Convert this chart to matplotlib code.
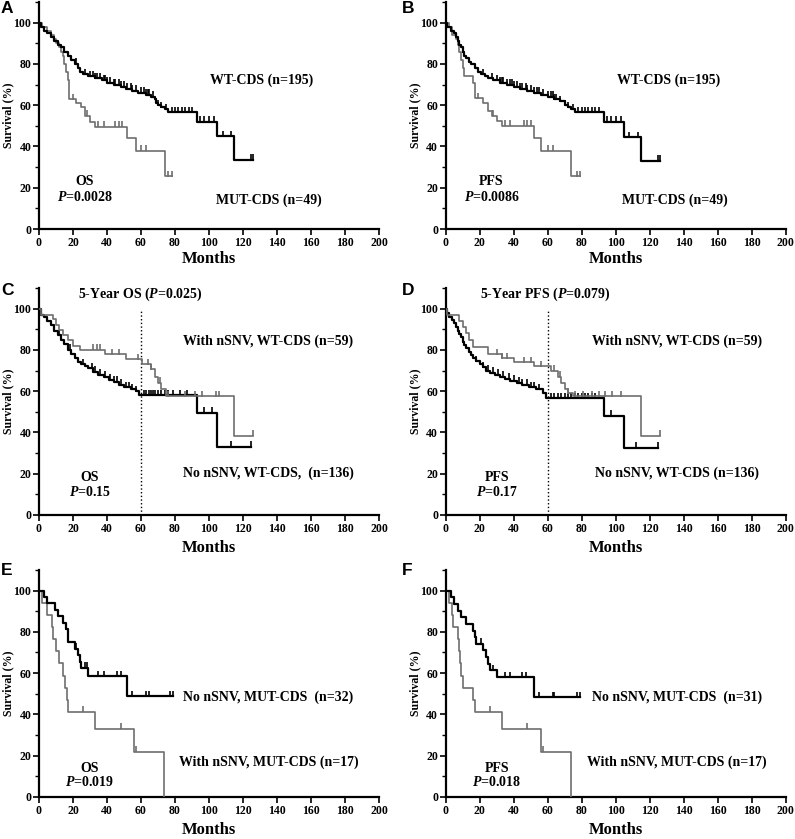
import matplotlib
matplotlib.use('Agg')
import matplotlib.pyplot as plt
import numpy as np
from matplotlib.ticker import MultipleLocator

plt.rcParams['font.family'] = 'Liberation Serif'
plt.rcParams['font.weight'] = 'bold'
plt.rcParams['mathtext.fontset'] = 'custom'
plt.rcParams['mathtext.rm'] = 'Liberation Serif:bold'
plt.rcParams['mathtext.bf'] = 'Liberation Serif:bold'
plt.rcParams['mathtext.bfit'] = 'Liberation Serif:italic:bold'
plt.rcParams['mathtext.it'] = 'Liberation Serif:italic:bold'

BLACK = '#000000'
GRAY = '#6e6e6e'

# ---- A: OS, WT-CDS vs MUT-CDS
a_wt_t = [1, 3, 5, 7, 9, 11, 13, 15, 17, 19, 21, 23, 24, 26, 29, 33, 37, 40, 44,
          48, 51, 55, 58, 63, 66, 68, 69, 70, 72, 74, 76, 93, 105, 115]
a_wt_s = [98, 96, 95, 93, 91, 89, 88, 86, 84, 82, 80, 78, 76, 75, 74, 73, 72, 71, 70,
          69, 68, 67, 66, 65, 64, 63, 61, 60, 59, 58, 56.5, 52, 45, 33.5]
a_wt_c = [22, 27, 30, 32, 33, 34, 36, 38, 39, 40, 42, 44, 45, 47, 48, 50, 52, 54, 55,
          57, 60, 62, 63, 64, 65, 67, 70, 72, 75, 78, 80, 82, 84, 86, 88, 90, 95, 97,
          100, 103, 108, 113, 125, 126]
a_mut_t = [2, 5, 7, 9, 10, 12, 13, 14, 15, 16, 17, 17.5, 22, 25, 27, 30, 33, 52, 57, 74]
a_mut_s = [98, 96, 94, 92, 90, 88, 86, 84, 80, 76, 72, 63, 61, 59, 55, 52, 49.5, 44, 38, 25.5]
a_mut_c = [20, 28, 35, 38, 45, 47, 49, 60, 63, 76, 78]

# ---- B: PFS, WT-CDS vs MUT-CDS
b_wt_t = [1, 3, 5, 6, 7, 8, 9, 10, 11, 12, 14, 15, 17, 19, 21, 23, 25, 28, 32, 36,
          40, 44, 48, 52, 56, 60, 64, 67, 70, 72, 74, 76, 93, 105, 115]
b_wt_s = [98, 96, 95, 93, 91, 89, 88, 86, 84, 83, 81, 80, 78, 76, 75, 74, 73, 72, 71, 70,
          69, 68, 67, 66, 65, 64, 63, 62, 60, 59, 58, 56.5, 52, 44.5, 33]
b_wt_c = a_wt_c
b_mut_t = [2, 4, 6, 7, 8, 9, 10, 11, 16, 17, 22, 25, 27, 30, 33, 52, 56, 74]
b_mut_s = [98, 94, 92, 89, 86, 82, 78, 74, 71, 63.5, 61, 57, 55, 52.5, 50, 44, 38, 25.5]
b_mut_c = [19, 28, 35, 38, 46, 48, 50, 60, 63, 77, 79]

# ---- C: OS, WT-CDS with / without nSNV
c_with_t = [1, 8, 10, 12, 14, 17, 20, 24, 39, 51, 60.5, 66, 68, 70, 72, 75, 115]
c_with_s = [97, 95, 92, 89.5, 87, 85, 82, 80, 78, 75.5, 73, 70.5, 67, 64, 61, 57.5, 38.5]
c_with_c = [32, 34, 36, 43, 47, 58, 64, 66, 71, 76, 86, 92, 96, 104, 106, 126]
c_no_t = [1, 3, 5, 7, 9, 11, 13, 15, 17, 19, 21, 23, 25, 27, 29, 32, 35, 38, 41, 44,
          47, 50, 54, 57, 59, 93, 105]
c_no_s = [97, 96, 94, 92, 89, 87, 85, 83, 80, 78, 76, 74, 73, 72, 71, 69.5, 68, 67,
          65.5, 64.5, 63, 62, 61, 60, 58, 49.5, 33]
c_no_c = [12, 18, 26, 31, 33, 36, 39, 42, 44, 46, 48, 51, 53, 55, 57, 62, 63, 65, 66,
          67, 68, 70, 72, 74, 76, 79, 83, 87, 97, 102, 113, 125]

# ---- D: PFS, WT-CDS with / without nSNV
d_with_t = [1, 8, 10, 12, 14, 16, 25, 33, 40, 52, 62, 66, 68, 70, 72, 75, 115]
d_with_s = [97, 94, 91, 88, 85, 81.5, 78, 76, 74, 72, 70, 67, 64, 61, 59, 57.5, 38.5]
d_with_c = [30, 33, 36, 46, 50, 56, 64, 67, 72, 76, 81, 86, 90, 94, 98, 103, 126]
d_no_t = [1, 2, 4, 5, 6, 7, 8, 9, 10, 11, 12, 14, 15, 16, 18, 20, 22, 24, 26, 29, 32,
          35, 38, 42, 45, 49, 53, 57, 59, 93, 105]
d_no_s = [98, 96, 94.5, 93, 91, 89, 87.5, 86, 84, 82.5, 81, 79, 77.5, 76, 74.5, 73,
          71.5, 70, 69, 68, 67, 66, 65, 64, 63, 62, 61, 59, 56.5, 48, 32.5]
d_no_c = [18, 22, 25, 28, 31, 34, 37, 40, 43, 45, 48, 50, 52, 55, 62, 64, 66, 68, 70,
          72, 74, 76, 78, 80, 82, 84, 86, 88, 97, 112, 125]

# ---- E: OS, MUT-CDS with / without nSNV
e_no_t = [3, 5, 9.5, 11, 14, 16, 17, 21, 23, 24, 25, 29, 52]
e_no_s = [96.9, 93.8, 90.6, 87.5, 84.4, 81.3, 75, 71.9, 68.8, 65.6, 62.5, 58.6, 48.8]
e_no_c = [16, 22, 27, 28, 35, 38, 46, 48, 55, 63, 65, 77, 79]
e_with_t = [2, 5, 7.5, 8.5, 10, 12, 14, 15.5, 16.3, 17, 33, 56, 73.5]
e_with_s = [94.1, 88.2, 82.4, 76.5, 70.6, 64.7, 58.8, 52.9, 47.1, 41.2, 33, 22, 0]
e_with_c = [26, 48, 57]

# ---- F: PFS, MUT-CDS with / without nSNV
f_no_t = [3, 5, 7, 9, 12, 16, 17, 18, 22, 24, 25, 26, 30, 52]
f_no_s = [96.8, 93.5, 90.3, 87.1, 83.9, 80.6, 77.4, 74.2, 71, 67.7, 64.5, 61.3, 58.1, 48.4]
f_no_c = [21, 28, 35, 38, 45, 47, 55, 63, 64, 77, 79]
f_with_t = [2, 4, 4.5, 7, 8, 8.5, 9, 10, 16, 17, 33, 56, 73.5]
f_with_s = [94.1, 88.2, 82.4, 76.5, 70.6, 64.7, 58.8, 52.9, 47.1, 41.2, 33, 22, 0]
f_with_c = [26, 48, 57]


def km(ax, t, s, cens, color, lw):
    t = np.asarray(t, float)
    s = np.asarray(s, float)
    end = max(max(cens), t[-1])
    x = np.concatenate([[0], t, [end]])
    y = np.concatenate([[100], s, [s[-1]]])
    ax.step(x, y, where='post', color=color, lw=lw, zorder=3)
    c = np.asarray(cens, float)
    idx = np.searchsorted(t, c, side='right')
    cy = np.concatenate([[100], s])[idx]
    ax.plot(c, cy + 1.2, ls='none', marker='|', ms=4, mew=1.2, color=color, zorder=3)


def style(ax, xlab_y):
    ax.set_xlim(0, 200)
    ax.set_ylim(0, 110)
    for sp in ['top', 'right']:
        ax.spines[sp].set_visible(False)
    for sp in ['left', 'bottom']:
        ax.spines[sp].set_linewidth(1.6)
    ax.spines['left'].set_bounds(0, 110)
    ax.set_xticks(np.arange(0, 201, 20))
    ax.set_yticks(np.arange(0, 101, 20))
    ax.yaxis.set_minor_locator(MultipleLocator(10))
    ax.tick_params(which='major', direction='out', length=4, width=1.2,
                   labelsize=8.5, pad=1.5)
    ax.tick_params(which='minor', direction='out', length=3, width=1.0)
    ax.set_xlabel('Months', fontsize=12, fontweight='bold')
    ax.xaxis.set_label_coords(0.5, xlab_y)
    ax.set_ylabel('Survival (%)', fontsize=8.5, fontweight='bold')
    ax.yaxis.set_label_coords(-0.073, 0.5)


def ptext(ax, x, y, s, color=BLACK):
    ax.text(x, y, s, ha='center', va='center', fontsize=10, fontweight='bold', color=color)


fig = plt.figure(figsize=(7.95, 8.39), dpi=100)
L1, L2, W, H = 0.049, 0.5606, 0.4277, 0.2706
rows = [0.727, 0.3862, 0.0501]

axA = fig.add_axes([L1, rows[0], W, H])
axB = fig.add_axes([L2, rows[0], W, H])
axC = fig.add_axes([L1, rows[1], W, H])
axD = fig.add_axes([L2, rows[1], W, H])
axE = fig.add_axes([L1, rows[2], W, H])
axF = fig.add_axes([L2, rows[2], W, H])

# A
km(axA, a_mut_t, a_mut_s, a_mut_c, GRAY, 1.2)
km(axA, a_wt_t, a_wt_s, a_wt_c, BLACK, 1.6)
style(axA, -0.097)
ptext(axA, 131, 72, 'WT-CDS (n=195)')
ptext(axA, 135, 14, 'MUT-CDS (n=49)')
ptext(axA, 27, 23, 'OS')
ptext(axA, 27, 15.5, r'$\mathbfit{P}$=0.0028')

# B
km(axB, b_mut_t, b_mut_s, b_mut_c, GRAY, 1.2)
km(axB, b_wt_t, b_wt_s, b_wt_c, BLACK, 1.6)
style(axB, -0.097)
ptext(axB, 131, 72, 'WT-CDS (n=195)')
ptext(axB, 135, 14, 'MUT-CDS (n=49)')
ptext(axB, 27, 23, 'PFS')
ptext(axB, 27, 15.5, r'$\mathbfit{P}$=0.0086')

# C
km(axC, c_no_t, c_no_s, c_no_c, BLACK, 1.6)
km(axC, c_with_t, c_with_s, c_with_c, GRAY, 1.2)
axC.plot([60, 60], [0, 100], color=BLACK, ls=':', lw=1.0, zorder=2)
style(axC, -0.110)
ptext(axC, 59.5, 107, r'5-Year OS ($\mathbfit{P}$=0.025)')
ptext(axC, 135, 84, 'With nSNV, WT-CDS (n=59)')
ptext(axC, 135, 20.4, 'No nSNV, WT-CDS,  (n=136)')
ptext(axC, 30, 18.4, 'OS')
ptext(axC, 30, 11, r'$\mathbfit{P}$=0.15')

# D
km(axD, d_no_t, d_no_s, d_no_c, BLACK, 1.6)
km(axD, d_with_t, d_with_s, d_with_c, GRAY, 1.2)
axD.plot([60, 60], [0, 100], color=BLACK, ls=':', lw=1.0, zorder=2)
style(axD, -0.110)
ptext(axD, 58.5, 107, r'5-Year PFS ($\mathbfit{P}$=0.079)')
ptext(axD, 136, 84, 'With nSNV, WT-CDS (n=59)')
ptext(axD, 136, 20.4, 'No nSNV, WT-CDS (n=136)')
ptext(axD, 30, 18.4, 'PFS')
ptext(axD, 30, 11, r'$\mathbfit{P}$=0.17')

# E
km(axE, e_with_t, e_with_s, e_with_c, GRAY, 1.2)
km(axE, e_no_t, e_no_s, e_no_c, BLACK, 1.6)
style(axE, -0.112)
ptext(axE, 135, 48.5, 'No nSNV, MUT-CDS  (n=32)')
ptext(axE, 135, 17, 'With nSNV, MUT-CDS (n=17)')
ptext(axE, 30, 14, 'OS')
ptext(axE, 30, 7.3, r'$\mathbfit{P}$=0.019')

# F
km(axF, f_with_t, f_with_s, f_with_c, GRAY, 1.2)
km(axF, f_no_t, f_no_s, f_no_c, BLACK, 1.6)
style(axF, -0.112)
ptext(axF, 136, 48.5, 'No nSNV, MUT-CDS  (n=31)')
ptext(axF, 136, 17, 'With nSNV, MUT-CDS (n=17)')
ptext(axF, 30, 14, 'PFS')
ptext(axF, 30, 7.3, r'$\mathbfit{P}$=0.018')

# panel letters
letters = ['A', 'B', 'C', 'D', 'E', 'F']
lx = [1, 402, 1, 402, 1, 402]
ly = [1, 1, 283, 283, 563, 563]
for s, x, y in zip(letters, lx, ly):
    fig.text(x / 795, 1 - y / 839, s, ha='left', va='top', fontsize=12.5,
             fontweight='bold', family='Liberation Sans')

fig.savefig('out.png', dpi=100)
